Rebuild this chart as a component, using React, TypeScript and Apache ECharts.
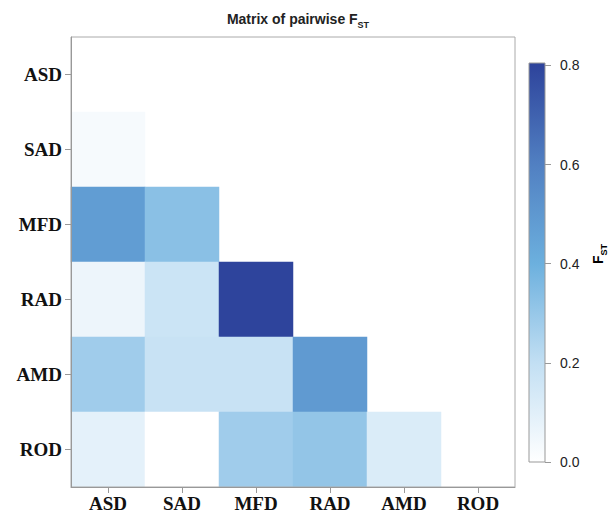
import React, { useEffect, useRef } from "react";
import * as echarts from "echarts";

const categories = ["ASD", "SAD", "MFD", "RAD", "AMD", "ROD"];
// lower-triangle pairwise FST values: [row (y), column (x), value]
const pairRows = ["SAD", "MFD", "MFD", "RAD", "RAD", "RAD", "AMD", "AMD", "AMD", "AMD", "ROD", "ROD", "ROD", "ROD", "ROD"];
const pairCols = ["ASD", "ASD", "SAD", "ASD", "SAD", "MFD", "ASD", "SAD", "MFD", "RAD", "ASD", "SAD", "MFD", "RAD", "AMD"];
const pairValues = [0.03, 0.48, 0.33, 0.06, 0.17, 0.8, 0.28, 0.18, 0.18, 0.49, 0.09, 0.0, 0.28, 0.31, 0.12];
const colorStops = [0, 0.2, 0.4, 0.6, 0.8];
const colorScale = ["#ffffff", "#c2dff3", "#6cb0de", "#5180c2", "#2e449c"];
const colorbarTicks = [0, 0.2, 0.4, 0.6, 0.8];
const colorbarMax = 0.805;

export default function App() {
  const ref = useRef<HTMLDivElement>(null);
  useEffect(() => {
    if (!ref.current) return;
    const chart = echarts.init(ref.current, undefined, { renderer: "svg" });
    const data = pairValues.map((v, i) => [
      categories.indexOf(pairCols[i]),
      categories.indexOf(pairRows[i]),
      v,
    ]);
    const serif = "Liberation Serif";
    const sans = "Liberation Sans";
    const axisCommon = {
      z: 5,
      axisLine: { show: true, lineStyle: { color: "#999", width: 1 } },
      axisTick: { show: true, alignWithLabel: true, length: 6, lineStyle: { color: "#999" } },
      splitLine: { show: false },
      splitArea: { show: false },
    };
    chart.setOption({
      animation: false,
      backgroundColor: "#ffffff",
      title: {
        text: "{a|Matrix of pairwise F}{s|ST}",
        left: 293,
        textAlign: "center",
        top: 3,
        textStyle: {
          rich: {
            a: { fontFamily: sans, fontWeight: "bold", fontSize: 14, color: "#222", lineHeight: 18, verticalAlign: "bottom" },
            s: { fontFamily: sans, fontWeight: "bold", fontSize: 9, color: "#222", lineHeight: 18, verticalAlign: "bottom", padding: [0, 0, -3, 0] },
          },
        },
      },
      grid: [
        { left: 71, top: 37, width: 444, height: 450, show: true, borderColor: "#aaa", borderWidth: 1, backgroundColor: "transparent", z: 4 },
        { left: 529, top: 63, width: 16, height: 399, show: true, borderColor: "#999", borderWidth: 1, backgroundColor: "transparent", z: 5 },
      ],
      xAxis: [
        {
          ...axisCommon,
          type: "category",
          gridIndex: 0,
          data: categories,
          axisLabel: { fontFamily: serif, fontWeight: "bold", fontSize: 19, color: "#111", margin: 7 },
        },
        { type: "category", gridIndex: 1, data: ["c"], show: false },
      ],
      yAxis: [
        {
          ...axisCommon,
          type: "category",
          gridIndex: 0,
          inverse: true,
          data: categories,
          axisLabel: { fontFamily: serif, fontWeight: "bold", fontSize: 19, color: "#111", margin: 9 },
        },
        {
          type: "value",
          gridIndex: 1,
          position: "right",
          min: 0,
          max: colorbarMax,
          axisLine: { show: false },
          splitLine: { show: false },
          axisTick: { show: true, length: 6, lineStyle: { color: "#999" }, customValues: colorbarTicks },
          axisLabel: {
            customValues: colorbarTicks,
            formatter: (v: number) => v.toFixed(1),
            fontFamily: sans,
            fontSize: 14,
            color: "#222",
            margin: 15,
          },
        },
      ],
      visualMap: {
        show: false,
        type: "continuous",
        seriesIndex: 0,
        min: colorStops[0],
        max: colorStops[colorStops.length - 1],
        inRange: { color: colorScale },
      },
      series: [
        {
          type: "heatmap",
          xAxisIndex: 0,
          yAxisIndex: 0,
          data,
          itemStyle: { borderWidth: 0 },
          emphasis: { disabled: true },
        },
        {
          type: "bar",
          xAxisIndex: 1,
          yAxisIndex: 1,
          data: [colorbarMax],
          barWidth: "100%",
          silent: true,
          itemStyle: {
            color: new echarts.graphic.LinearGradient(
              0, 1, 0, 0,
              colorStops.map((s, i) => ({ offset: s / colorbarMax, color: colorScale[i] }))
            ),
          },
        },
      ],
      graphic: [
        {
          type: "text",
          x: 596,
          y: 254,
          rotation: Math.PI / 2,
          style: {
            text: "{a|F}{s|ST}",
            align: "center",
            verticalAlign: "middle",
            rich: {
              a: { fontFamily: sans, fontWeight: "bold", fontSize: 14, color: "#222", lineHeight: 18, verticalAlign: "bottom" },
              s: { fontFamily: sans, fontWeight: "bold", fontSize: 9, color: "#222", lineHeight: 18, verticalAlign: "bottom", padding: [0, 0, -3, 0] },
            },
          },
        },
      ],
    });
    return () => chart.dispose();
  }, []);
  return <div ref={ref} style={{ position: "fixed", left: 0, top: 0, width: 613, height: 514 }} />;
}
